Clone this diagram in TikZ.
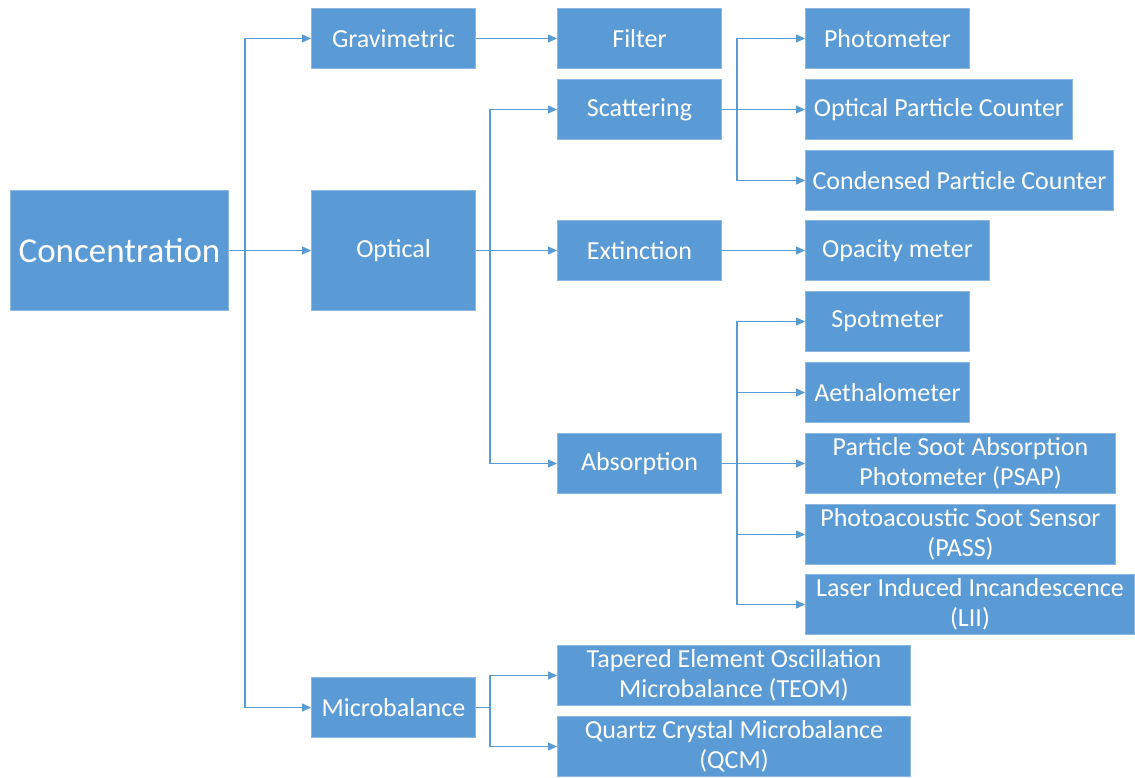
\documentclass[tikz,border=0pt]{standalone}
\usepackage{fontspec}
\setmainfont{Carlito}
\usetikzlibrary{arrows.meta}
\definecolor{boxblue}{HTML}{5B9BD5}
\definecolor{boxedge}{HTML}{8DB8E2}
\definecolor{linkblue}{HTML}{5B9BD5}
\tikzset{
  box/.style={fill=boxblue, draw=boxedge, line width=1pt, text=white, align=center,
    inner sep=0pt, anchor=north west, font=\fontsize{26}{30.5}\selectfont},
  link/.style={draw=linkblue, line width=1.3pt, -{Triangle[length=9pt,width=8pt]}},
  plain/.style={draw=linkblue, line width=1.3pt}
}
\begin{document}
\begin{tikzpicture}[x=1pt,y=-1pt]
\useasboundingbox (0,0) rectangle (1135,778);
% level 0
\node[box, minimum width=218pt, minimum height=120pt, font=\fontsize{35}{40}\selectfont] (conc) at (10,190) {Concentration};
% level 1
\node[box, minimum width=164pt, minimum height=60pt] (grav) at (311,8) {Gravimetric};
\node[box, minimum width=164pt, minimum height=120pt] (opt) at (311,190) {Optical};
\node[box, minimum width=164pt, minimum height=60pt] (micro) at (311,677) {Microbalance};
% level 2
\node[box, minimum width=164pt, minimum height=60pt] (filter) at (557,8) {Filter};
\node[box, minimum width=164pt, minimum height=60pt] (scat) at (557,79) {Scattering};
\node[box, minimum width=164pt, minimum height=60pt] (ext) at (557,220) {Extinction};
\node[box, minimum width=164pt, minimum height=60pt] (abs) at (557,433) {Absorption};
\node[box, minimum width=353pt, minimum height=60pt] (teom) at (557,645) {Tapered Element Oscillation\\Microbalance (TEOM)};
\node[box, minimum width=353pt, minimum height=60pt] (qcm) at (557,716) {Quartz Crystal Microbalance\\(QCM)};
% level 3
\node[box, minimum width=164pt, minimum height=60pt] (photo) at (805,8) {Photometer};
\node[box, minimum width=267pt, minimum height=60pt] (opc) at (805,79) {Optical Particle Counter};
\node[box, minimum width=308pt, minimum height=60pt] (cpc) at (805,150) {Condensed Particle Counter};
\node[box, minimum width=184pt, minimum height=60pt] (opac) at (805,220) {Opacity meter};
\node[box, minimum width=164pt, minimum height=60pt] (spot) at (805,291) {Spotmeter};
\node[box, minimum width=164pt, minimum height=60pt] (aeth) at (805,362) {Aethalometer};
\node[box, minimum width=310pt, minimum height=60pt] (psap) at (805,433) {Particle Soot Absorption\\Photometer (PSAP)};
\node[box, minimum width=310pt, minimum height=60pt] (pass) at (805,504) {Photoacoustic Soot Sensor\\(PASS)};
\node[box, minimum width=329pt, minimum height=60pt] (lii) at (805,574) {Laser Induced Incandescence\\(LII)};
% trunk coordinates
\coordinate (t0) at (245,0);
\coordinate (t1) at (490,0);
\coordinate (t2) at (737,0);
% connectors from Concentration
\draw[link] (conc.east) -- (opt.west);
\draw[link] (conc.east) -| (grav.west -| t0) -- (grav.west);
\draw[link] (conc.east) -| (micro.west -| t0) -- (micro.west);
% Gravimetric
\draw[link] (grav.east) -- (filter.west);
% Optical
\draw[link] (opt.east) -- (ext.west);
\draw[link] (opt.east) -| (scat.west -| t1) -- (scat.west);
\draw[link] (opt.east) -| (abs.west -| t1) -- (abs.west);
% Microbalance
\draw[link] (micro.east) -| (teom.west -| t1) -- (teom.west);
\draw[link] (micro.east) -| (qcm.west -| t1) -- (qcm.west);
% Scattering
\draw[link] (scat.east) -- (opc.west);
\draw[link] (scat.east) -| (photo.west -| t2) -- (photo.west);
\draw[link] (scat.east) -| (cpc.west -| t2) -- (cpc.west);
% Extinction
\draw[link] (ext.east) -- (opac.west);
% Absorption
\draw[link] (abs.east) -- (psap.west);
\draw[link] (abs.east) -| (spot.west -| t2) -- (spot.west);
\draw[link] (abs.east) -| (aeth.west -| t2) -- (aeth.west);
\draw[link] (abs.east) -| (pass.west -| t2) -- (pass.west);
\draw[link] (abs.east) -| (lii.west -| t2) -- (lii.west);
\end{tikzpicture}
\end{document}
